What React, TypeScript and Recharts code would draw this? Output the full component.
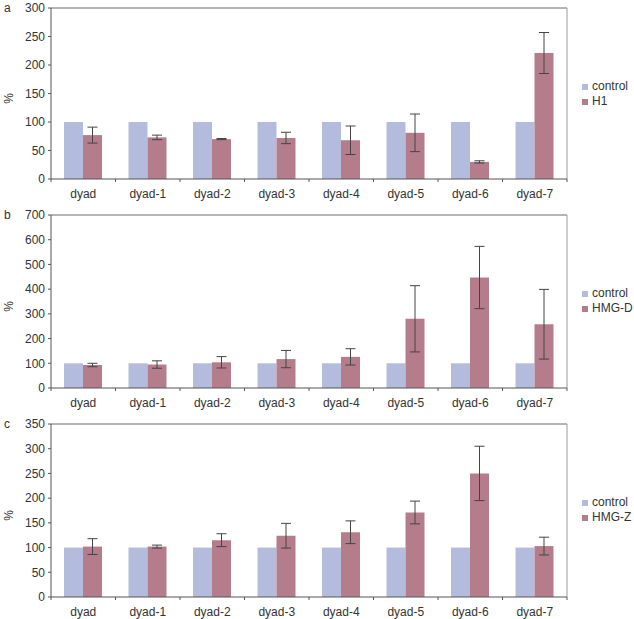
import React from 'react';
import { BarChart, Bar, XAxis, YAxis, ErrorBar, Legend, CartesianGrid, Label } from 'recharts';

const categories = ['dyad', 'dyad-1', 'dyad-2', 'dyad-3', 'dyad-4', 'dyad-5', 'dyad-6', 'dyad-7'];
const controlValues = [100, 100, 100, 100, 100, 100, 100, 100];

const h1Values = [77, 73, 70, 72, 68, 81, 30, 221];
const h1Errors = [14, 4, 1, 10, 25, 33, 2, 36];

const hmgdValues = [93, 95, 104, 117, 126, 280, 447, 258];
const hmgdErrors = [7, 15, 23, 35, 33, 134, 126, 141];

const hmgzValues = [102, 102, 115, 124, 131, 171, 250, 103];
const hmgzErrors = [16, 3, 13, 25, 23, 23, 55, 18];

const ticksA = [0, 50, 100, 150, 200, 250, 300];
const ticksB = [0, 100, 200, 300, 400, 500, 600, 700];
const ticksC = [0, 50, 100, 150, 200, 250, 300, 350];

const CONTROL_COLOR = '#b3bcdc';
const TREATED_COLOR = '#b57c8c';
const AXIS_COLOR = '#555555';
const TEXT_COLOR = '#333333';
const FONT = '"Liberation Sans", Arial, Helvetica, sans-serif';

function buildRows(values: number[], errors: number[]) {
  return categories.map((c, i) => ({
    name: c,
    control: controlValues[i],
    treated: values[i],
    err: errors[i],
  }));
}

const XTick = (props: any) => {
  const { x, y, payload, index, visibleTicksCount, width } = props;
  const half =
    payload && typeof payload.offset === 'number' && payload.offset > 0
      ? payload.offset
      : width / (2 * (visibleTicksCount || 8));
  const axisY = y - 10;
  const isLast = index === (visibleTicksCount || 8) - 1;
  return (
    <g>
      <line x1={x - half} x2={x - half} y1={axisY} y2={axisY + 3} stroke={AXIS_COLOR} strokeWidth={1} />
      {isLast && (
        <line x1={x + half} x2={x + half} y1={axisY} y2={axisY + 3} stroke={AXIS_COLOR} strokeWidth={1} />
      )}
      <text x={x} y={y} dy="0.71em" textAnchor="middle" fontSize={12} fill={TEXT_COLOR} fontFamily={FONT}>
        {payload.value}
      </text>
    </g>
  );
};

function sideLabel(p: any, letter: string) {
  const vb = p.viewBox || { x: 0, y: 0, width: 51, height: 170 };
  const cx = vb.x + 9;
  const cy = vb.y + vb.height / 2 + 5;
  return (
    <g>
      <text x={vb.x + 4} y={vb.y + 4} fontSize={12} fill={TEXT_COLOR} fontFamily={FONT}>
        {letter}
      </text>
      <text
        x={cx}
        y={cy}
        textAnchor="middle"
        dominantBaseline="central"
        fontSize={12}
        fill={TEXT_COLOR}
        fontFamily={FONT}
        transform={`rotate(-90, ${cx}, ${cy})`}
      >
        %
      </text>
    </g>
  );
}

type PanelProps = {
  letter: string;
  seriesName: string;
  values: number[];
  errors: number[];
  ticks: number[];
  top: number;
  height: number;
};

const Panel = ({ letter, seriesName, values, errors, ticks, top, height }: PanelProps) => {
  const data = buildRows(values, errors);
  const maxV = ticks[ticks.length - 1];
  return (
    <div style={{ position: 'absolute', left: 0, top, width: 634, height }}>
      <BarChart
        width={634}
        height={height}
        data={data}
        margin={{ top: 8, right: 67, bottom: 0, left: 0 }}
        barGap={0}
        style={{ fontFamily: FONT }}
      >
        <CartesianGrid
          horizontal={true}
          vertical={false}
          stroke="#6a6a6a"
          horizontalCoordinatesGenerator={(args: any) => [args.offset.top]}
        />
        <CartesianGrid
          horizontal={false}
          vertical={true}
          stroke="#9a9a9a"
          verticalCoordinatesGenerator={(args: any) => [args.offset.left + args.offset.width]}
        />
        <XAxis
          dataKey="name"
          height={22}
          interval={0}
          tickSize={3}
          tickMargin={7}
          tickLine={{ stroke: 'none' }}
          axisLine={{ stroke: AXIS_COLOR }}
          tick={<XTick />}
        />
        <YAxis
          width={51}
          domain={[0, maxV]}
          ticks={ticks}
          interval={0}
          tickSize={3}
          tickMargin={3}
          axisLine={{ stroke: AXIS_COLOR }}
          tickLine={{ stroke: AXIS_COLOR }}
          tick={{ fontSize: 12, fill: TEXT_COLOR, fontFamily: FONT }}
        >
          <Label content={(p: any) => sideLabel(p, letter)} />
        </YAxis>
        <Legend
          layout="vertical"
          align="center"
          verticalAlign="middle"
          iconType="square"
          iconSize={6}
          itemSorter="dataKey"
          wrapperStyle={{
            left: 582,
            top: 79,
            width: 90,
            whiteSpace: 'nowrap',
            fontSize: 12,
            fontFamily: FONT,
            lineHeight: '15px',
          }}
          formatter={(v: any) => <span style={{ color: TEXT_COLOR, whiteSpace: 'nowrap' }}>{v}</span>}
        />
        <Bar dataKey="control" name="control" fill={CONTROL_COLOR} barSize={19} isAnimationActive={false} />
        <Bar dataKey="treated" name={seriesName} fill={TREATED_COLOR} barSize={19} isAnimationActive={false}>
          <ErrorBar dataKey="err" width={5} stroke="#444444" strokeWidth={1} />
        </Bar>
      </BarChart>
    </div>
  );
};

export default function App() {
  return (
    <div
      style={{
        position: 'absolute',
        left: 0,
        top: 0,
        width: 634,
        height: 619,
        background: '#ffffff',
        fontFamily: FONT,
        overflow: 'hidden',
      }}
    >
      <Panel letter="a" seriesName="H1" values={h1Values} errors={h1Errors} ticks={ticksA} top={0} height={201} />
      <Panel letter="b" seriesName="HMG-D" values={hmgdValues} errors={hmgdErrors} ticks={ticksB} top={207} height={203} />
      <Panel letter="c" seriesName="HMG-Z" values={hmgzValues} errors={hmgzErrors} ticks={ticksC} top={416} height={203} />
    </div>
  );
}
